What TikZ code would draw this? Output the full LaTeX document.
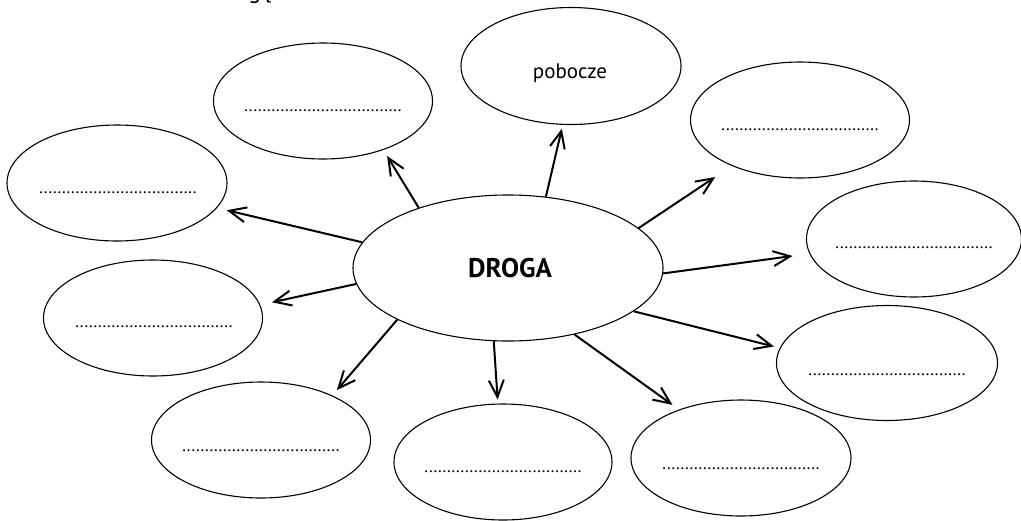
\documentclass[tikz,border=0pt]{standalone}
\usepackage{fontspec}
\setmainfont{PT Sans}
\usetikzlibrary{arrows.meta,shapes.geometric}
\newcommand\dotrow{\makebox[158pt]{\xleaders\hbox to 4.4pt{\hss.\hss}\hfill}}
\begin{document}
\begin{tikzpicture}[x=1pt,y=-1pt,
  bub/.style={draw, ellipse, line width=1.1pt, inner sep=0pt, minimum width=219pt, minimum height=116pt},
  dotsnode/.style={inner sep=0pt, font=\fontsize{17}{17}\selectfont},
  arr/.style={line width=2pt, -{Straight Barb[length=17pt,width=15pt]}},
  lbl/.style={inner sep=0pt, anchor=base}
]
\useasboundingbox (0,0) rectangle (1021,520);
\clip (0,0) rectangle (1021,520);

\node[lbl, anchor=base west, font=\fontsize{24}{24}\selectfont] (frag) at (214,-2) {drogę};

\node[bub, minimum width=310pt, minimum height=146pt] (droga) at (508,268) {};
\node[lbl, font=\bfseries\fontsize{27}{27}\selectfont] (dtext) at (510,277) {DROGA};

\node[bub] (s1) at (323,101) {};
\node[bub, minimum width=220pt, minimum height=117pt] (s2) at (571,66) {};
\node[bub] (s3) at (800,120) {};
\node[bub, minimum width=220pt] (s4) at (117,183) {};
\node[bub, minimum width=215pt] (s5) at (914,239) {};
\node[bub] (s6) at (153,318) {};
\node[bub, minimum width=221pt, minimum height=115pt] (s7) at (887,363) {};
\node[bub] (s8) at (261,440) {};
\node[bub, minimum width=218pt] (s9) at (503,462) {};
\node[bub, minimum width=220pt] (s10) at (741,458) {};

\node[lbl, font=\fontsize{21}{21}\selectfont] (ptext) at (570,78) {pobocze};
\node[dotsnode] (d1) at (323,111) {\dotrow};
\node[dotsnode] (d3) at (800,130) {\dotrow};
\node[dotsnode] (d4) at (118,193) {\dotrow};
\node[dotsnode] (d5) at (914,248) {\dotrow};
\node[dotsnode] (d6) at (154,327) {\dotrow};
\node[dotsnode] (d7) at (887,375) {\dotrow};
\node[dotsnode] (d8) at (261,451) {\dotrow};
\node[dotsnode] (d9) at (503,472) {\dotrow};
\node[dotsnode] (d10) at (741,469) {\dotrow};

\draw[arr, shorten >=7pt] (droga.146) -- (s1.-39);
\draw[arr, shorten >=4pt] (droga.62) -- (s2.-98);
\draw[arr, shorten >=20pt] (droga.17) -- (s3.-146);
\draw[arr, shorten >=17pt] (droga.-2) -- (s5.-172);
\draw[arr, shorten >=10pt] (droga.170) -- (s4.-14);
\draw[arr, shorten >=12pt] (droga.-174) -- (s6.7);
\draw[arr, shorten >=6pt] (droga.-19) -- (s7.172);
\draw[arr, shorten >=7pt] (droga.-155) -- (s8.32);
\draw[arr, shorten >=4pt] (droga.-101) -- (s9.95);
\draw[arr, shorten >=8pt] (droga.-45) -- (s10.142);
\end{tikzpicture}
\end{document}
